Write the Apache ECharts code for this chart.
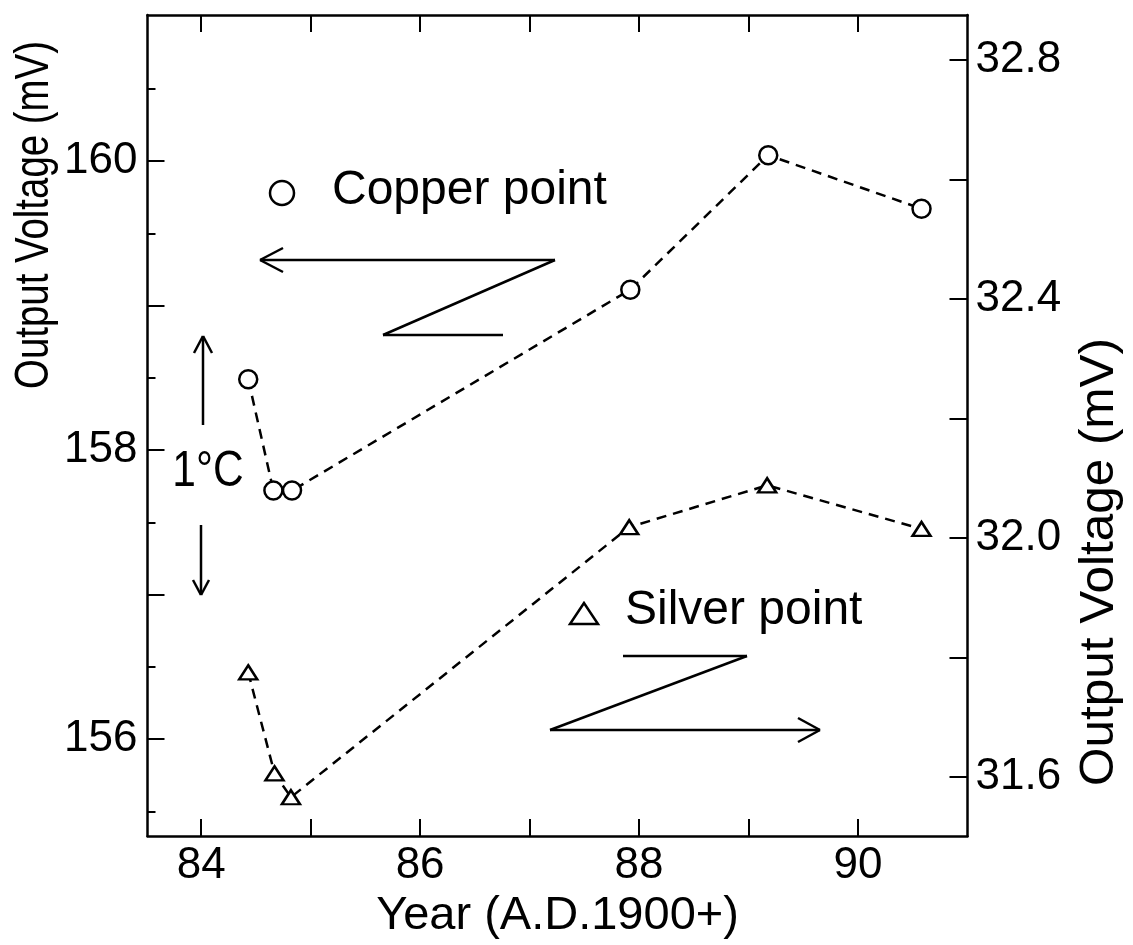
<!DOCTYPE html>
<html>
<head>
<meta charset="utf-8">
<script src="https://cdn.jsdelivr.net/npm/echarts@6/dist/echarts.min.js"></script>
<style>
html,body{margin:0;padding:0;background:#fff;}
#chart{width:1133px;height:945px;}
</style>
</head>
<body>
<div id="chart"></div>
<script>
// ---- data ----
const copperYears = [84.43, 84.66, 84.83, 87.92, 89.18, 90.58];
const copperMV    = [158.49, 157.72, 157.72, 159.11, 160.04, 159.67];
const silverYears = [84.43, 84.67, 84.82, 87.91, 89.17, 90.58];
const silverMV    = [31.775, 31.606, 31.566, 32.018, 32.088, 32.015];

const xTicks       = [84, 85, 86, 87, 88, 89, 90];
const xTickLabels  = [84, 86, 88, 90];
const leftTicks    = [156, 157, 158, 159, 160];
const leftMinor    = [155.5, 156.5, 157.5, 158.5, 159.5, 160.5];
const leftLabels   = [156, 158, 160];
const rightTicks   = [31.6, 31.8, 32.0, 32.2, 32.4, 32.6, 32.8];
const rightLabels  = [31.6, 32.0, 32.4, 32.8];

const xTitle = 'Year (A.D.1900+)';
const yTitle = 'Output Voltage (mV)';
const copperLabel = 'Copper point';
const silverLabel = 'Silver point';
const deltaLabel = '1°C';

// ---- chart ----
const FONT = '"Liberation Sans", Arial, sans-serif';
const chart = echarts.init(document.getElementById('chart'), null, {renderer: 'canvas'});
const axisLine = {show: true, lineStyle: {color: '#000', width: 2.5}};
const tickStyle = {color: '#000', width: 2};
const labelStyle = {color: '#000', fontSize: 44, fontFamily: FONT};

const zip = (a, b) => a.map((v, i) => [v, b[i]]);

function line(x1, y1, x2, y2) {
  return {type: 'line', shape: {x1, y1, x2, y2}, style: {stroke: '#000', lineWidth: 2.5}, silent: true};
}

const option = {
  backgroundColor: '#fff',
  animation: false,
  grid: {left: 147.5, right: 165.5, top: 15, bottom: 108, containLabel: false},
  xAxis: [
    {
      type: 'value', min: 83.51, max: 91.0, position: 'bottom',
      axisLine: axisLine, splitLine: {show: false},
      axisTick: {show: true, inside: true, length: 17, lineStyle: tickStyle, customValues: xTicks},
      axisLabel: Object.assign({margin: 8, customValues: xTickLabels, formatter: v => String(v)}, labelStyle),
      name: xTitle, nameLocation: 'middle', nameGap: 46,
      nameTextStyle: {color: '#000', fontSize: 47, fontFamily: FONT}
    },
    {
      type: 'value', min: 83.51, max: 91.0, position: 'top',
      axisLine: axisLine, splitLine: {show: false},
      axisTick: {show: true, inside: true, length: 17, lineStyle: tickStyle, customValues: xTicks},
      axisLabel: {show: false}
    }
  ],
  yAxis: [
    {
      type: 'value', min: 155.33, max: 161.01, position: 'left',
      axisLine: axisLine, splitLine: {show: false},
      axisTick: {show: true, inside: true, length: 17, lineStyle: tickStyle, customValues: leftTicks},
      axisLabel: Object.assign({margin: 10, customValues: leftLabels, formatter: v => String(v)}, labelStyle)
    },
    {
      type: 'value', min: 31.501, max: 32.875, position: 'right',
      axisLine: axisLine, splitLine: {show: false},
      axisTick: {show: true, inside: true, length: 18, lineStyle: tickStyle, customValues: rightTicks},
      axisLabel: Object.assign({margin: 8, customValues: rightLabels, formatter: v => Number(v).toFixed(1)}, labelStyle)
    },
    {
      type: 'value', min: 155.33, max: 161.01, position: 'left',
      axisLine: {show: false}, splitLine: {show: false},
      axisTick: {show: true, inside: true, length: 8, lineStyle: tickStyle, customValues: leftMinor},
      axisLabel: {show: false}
    }
  ],
  series: [
    {
      name: copperLabel, type: 'line', xAxisIndex: 0, yAxisIndex: 0,
      data: zip(copperYears, copperMV),
      symbol: 'circle', symbolSize: 18,
      itemStyle: {color: '#fff', borderColor: '#000', borderWidth: 2.5},
      lineStyle: {color: '#000', width: 2.5, type: [10, 7]},
      z: 3
    },
    {
      name: silverLabel, type: 'line', xAxisIndex: 0, yAxisIndex: 1,
      data: zip(silverYears, silverMV),
      symbol: 'triangle', symbolSize: [18, 14],
      itemStyle: {color: '#fff', borderColor: '#000', borderWidth: 2.5},
      lineStyle: {color: '#000', width: 2.5, type: [10, 7]},
      z: 3
    }
  ],
  graphic: [
    // axis titles
    {type: 'text', x: 35, y: 215, rotation: Math.PI / 2, scaleX: 0.8,
     style: {text: yTitle, font: '48px ' + FONT, fill: '#000', align: 'center', verticalAlign: 'middle'}},
    {type: 'text', x: 1100, y: 562, rotation: Math.PI / 2, scaleX: 1.03,
     style: {text: yTitle, font: '48px ' + FONT, fill: '#000', align: 'center', verticalAlign: 'middle'}},
    // copper legend
    {type: 'circle', shape: {cx: 282, cy: 193, r: 12}, style: {fill: 'none', stroke: '#000', lineWidth: 2.5}},
    {type: 'text', x: 332, y: 191,
     style: {text: copperLabel, font: '48px ' + FONT, fill: '#000', align: 'left', verticalAlign: 'middle'}},
    // silver legend
    {type: 'polygon', shape: {points: [[584, 603], [570, 624], [598, 624]]}, style: {fill: 'none', stroke: '#000', lineWidth: 2.5}},
    {type: 'text', x: 625, y: 611,
     style: {text: silverLabel, font: '48px ' + FONT, fill: '#000', align: 'left', verticalAlign: 'middle'}},
    // copper Z arrow (pointing left)
    line(555, 260, 260, 260), line(260, 260, 283, 248), line(260, 260, 283, 272),
    line(555, 260, 383, 335), line(383, 335, 503, 335),
    // silver Z arrow (pointing right)
    line(623, 656, 747, 656), line(747, 656, 550, 730),
    line(550, 730, 820, 730), line(820, 730, 798, 718), line(820, 730, 798, 742),
    // 1°C
    line(203, 425, 203, 336), line(203, 336, 194, 353), line(203, 336, 212, 353),
    line(201, 525, 201, 595), line(201, 595, 193, 580), line(201, 595, 209, 580),
    {type: 'text', x: 208, y: 472, scaleX: 0.85,
     style: {text: deltaLabel, font: '50px ' + FONT, fill: '#000', align: 'center', verticalAlign: 'middle'}}
  ]
};
chart.setOption(option);
</script>
</body>
</html>
